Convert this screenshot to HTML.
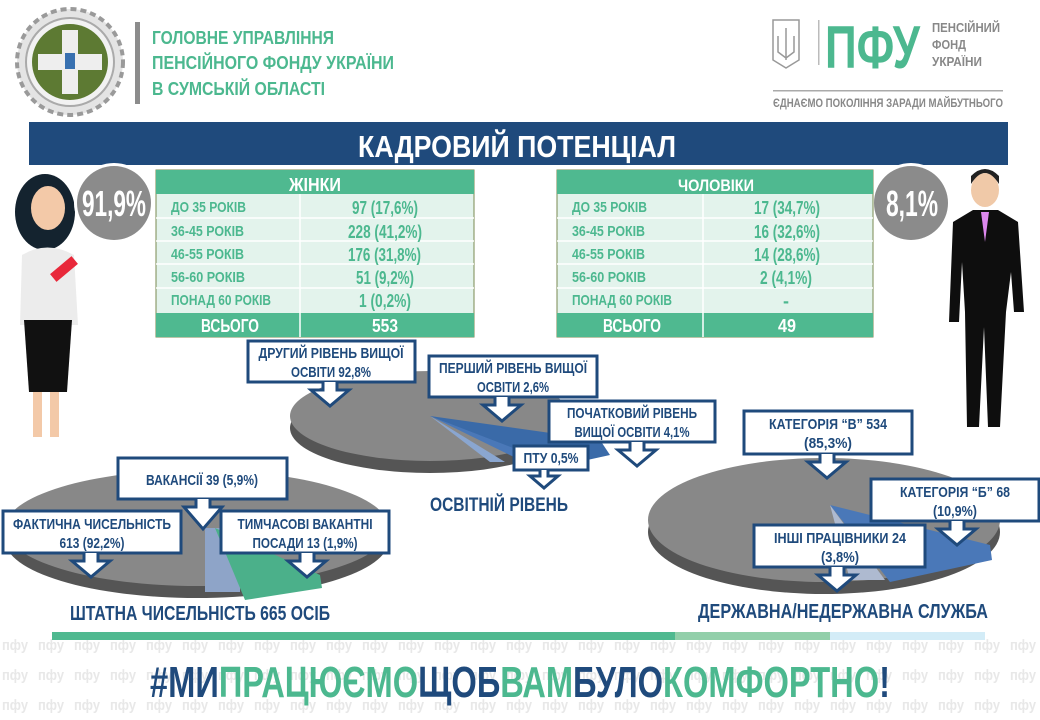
<!DOCTYPE html>
<html><head><meta charset="utf-8"><style>
html,body{margin:0;padding:0;background:#fff}
svg{display:block}
text{font-family:"Liberation Sans Narrow","Liberation Sans",sans-serif;font-weight:bold}
</style></head><body>
<svg width="1040" height="720" viewBox="0 0 1040 720" xmlns="http://www.w3.org/2000/svg">
<defs>
<pattern id="wm" x="0" y="0" width="36" height="30" patternUnits="userSpaceOnUse">
<text x="2" y="20" font-size="15" fill="#e8e8e8" font-weight="normal" textLength="26" lengthAdjust="spacingAndGlyphs">пфу</text>
</pattern>
</defs>
<rect x="0" y="628" width="1040" height="92" fill="url(#wm)"/>

<!-- header logo -->
<circle cx="70" cy="62" r="53" fill="#e4e4e4" stroke="#9a9a9a" stroke-width="4" stroke-dasharray="6 4"/>
<circle cx="70" cy="62" r="44" fill="#f2f2f2" stroke="#aaa" stroke-width="2"/>
<circle cx="70" cy="62" r="38" fill="#5d7a33"/>
<rect x="62" y="30" width="16" height="64" fill="#eee"/>
<rect x="38" y="54" width="64" height="16" fill="#eee"/>
<rect x="65" y="53" width="10" height="16" fill="#3870b0"/>
<rect x="135" y="22" width="5" height="82" fill="#8c8c8c"/>
<text x="152" y="44" font-size="18" fill="#4cb88f" textLength="182" lengthAdjust="spacingAndGlyphs">ГОЛОВНЕ УПРАВЛІННЯ</text>
<text x="152" y="69" font-size="18" fill="#4cb88f" textLength="242" lengthAdjust="spacingAndGlyphs">ПЕНСІЙНОГО ФОНДУ УКРАЇНИ</text>
<text x="152" y="95" font-size="18" fill="#4cb88f" textLength="173" lengthAdjust="spacingAndGlyphs">В СУМСЬКІЙ ОБЛАСТІ</text>

<!-- right logo -->
<path d="M773 20h26v40l-13 8-13-8z" fill="none" stroke="#999" stroke-width="1.5"/>
<path d="M786 28v32M778 36v16l8 6 8-6V36" fill="none" stroke="#999" stroke-width="1.5"/>
<rect x="818" y="20" width="1.5" height="45" fill="#bbb"/>
<text x="825" y="68" font-size="60" fill="#4cb88f" textLength="95" lengthAdjust="spacingAndGlyphs">ПФУ</text>
<text x="932" y="32" font-size="13" fill="#888" textLength="68" lengthAdjust="spacingAndGlyphs">ПЕНСІЙНИЙ</text>
<text x="932" y="49" font-size="13" fill="#888" textLength="34" lengthAdjust="spacingAndGlyphs">ФОНД</text>
<text x="932" y="66" font-size="13" fill="#888" textLength="50" lengthAdjust="spacingAndGlyphs">УКРАЇНИ</text>
<rect x="773" y="90" width="230" height="1.5" fill="#aaa"/>
<text x="773" y="107" font-size="12" fill="#888" font-weight="normal" textLength="230" lengthAdjust="spacingAndGlyphs">ЄДНАЄМО ПОКОЛІННЯ ЗАРАДИ МАЙБУТНЬОГО</text>

<!-- title -->
<rect x="29" y="122" width="979" height="43" fill="#1f4a7c"/>
<text x="358" y="157" font-size="31" fill="#fff" textLength="318" lengthAdjust="spacingAndGlyphs">КАДРОВИЙ  ПОТЕНЦІАЛ</text>

<!-- woman -->
<ellipse cx="45" cy="212" rx="30" ry="38" fill="#14232f"/>
<ellipse cx="48" cy="208" rx="17" ry="22" fill="#f3c9a8"/>
<path d="M22 255 q25 -15 52 0 l4 70 h-58z" fill="#ececec"/>
<path d="M24 320 h48 l-5 72 h-38z" fill="#111"/>
<rect x="33" y="392" width="9" height="45" fill="#f3c9a8"/>
<rect x="50" y="392" width="9" height="45" fill="#f3c9a8"/>
<rect x="50" y="264" width="28" height="10" fill="#e8283a" transform="rotate(-40 64 269)"/>
<circle cx="114" cy="203" r="40" fill="#fff"/>
<circle cx="114" cy="203" r="37" fill="#8b8b8b"/>
<text x="82" y="216" font-size="36" fill="#fff" textLength="64" lengthAdjust="spacingAndGlyphs">91,9%</text>

<!-- man -->
<ellipse cx="985" cy="190" rx="14" ry="17" fill="#f0c9a8"/>
<path d="M971 184 q14 -22 28 0 v-8 q-14 -14 -28 0z" fill="#222"/>
<path d="M953 222 l20 -12 h25 l20 12 l6 90 h-10 l-3 -40 l-5 40 l-6 115 h-12 l-4 -100 l-5 100 h-12 l-2 -115 l-3 -50 l-3 60 h-10z" fill="#0e0e0e"/>
<path d="M981 212 h8 l-4 30z" fill="#dd88ee"/>
<circle cx="911" cy="203" r="40" fill="#fff"/>
<circle cx="911" cy="203" r="37" fill="#8b8b8b"/>
<text x="886" y="216" font-size="36" fill="#fff" textLength="52" lengthAdjust="spacingAndGlyphs">8,1%</text>

<!-- women table -->
<g>
<rect x="156" y="170" width="318" height="167" fill="#e3f3ec" stroke="#7a8a50" stroke-width="1"/>
<rect x="156" y="170" width="318" height="24" fill="#4fb990"/>
<rect x="156" y="313" width="318" height="24" fill="#4fb990"/>
<g stroke="#fff" stroke-width="1.5"><line x1="156" y1="218" x2="474" y2="218"/><line x1="156" y1="241" x2="474" y2="241"/><line x1="156" y1="264" x2="474" y2="264"/><line x1="156" y1="288" x2="474" y2="288"/><line x1="300" y1="194" x2="300" y2="337"/></g>
<text x="289" y="191" font-size="18" fill="#fff" textLength="52" lengthAdjust="spacingAndGlyphs">ЖІНКИ</text>
<g font-size="15" fill="#4cb88f" font-weight="normal">
<text x="171" y="212" textLength="75" lengthAdjust="spacingAndGlyphs">ДО 35 РОКІВ</text>
<text x="171" y="236" textLength="73" lengthAdjust="spacingAndGlyphs">36-45 РОКІВ</text>
<text x="171" y="259" textLength="73" lengthAdjust="spacingAndGlyphs">46-55 РОКІВ</text>
<text x="171" y="282" textLength="74" lengthAdjust="spacingAndGlyphs">56-60 РОКІВ</text>
<text x="171" y="305" textLength="100" lengthAdjust="spacingAndGlyphs">ПОНАД 60 РОКІВ</text></g>
<g font-size="18" fill="#4cb88f" font-weight="normal">
<text x="352" y="214" textLength="66" lengthAdjust="spacingAndGlyphs">97 (17,6%)</text>
<text x="348" y="238" textLength="74" lengthAdjust="spacingAndGlyphs">228 (41,2%)</text>
<text x="348" y="261" textLength="73" lengthAdjust="spacingAndGlyphs">176 (31,8%)</text>
<text x="356" y="284" textLength="58" lengthAdjust="spacingAndGlyphs">51 (9,2%)</text>
<text x="359" y="307" textLength="52" lengthAdjust="spacingAndGlyphs">1 (0,2%)</text></g>
<text x="201" y="332" font-size="18" fill="#fff" textLength="58" lengthAdjust="spacingAndGlyphs">ВСЬОГО</text>
<text x="372" y="332" font-size="18" fill="#fff" textLength="26" lengthAdjust="spacingAndGlyphs">553</text>
</g>

<!-- men table -->
<g>
<rect x="557" y="170" width="316" height="167" fill="#e3f3ec" stroke="#7a8a50" stroke-width="1"/>
<rect x="557" y="170" width="316" height="24" fill="#4fb990"/>
<rect x="557" y="313" width="316" height="24" fill="#4fb990"/>
<g stroke="#fff" stroke-width="1.5"><line x1="557" y1="218" x2="873" y2="218"/><line x1="557" y1="241" x2="873" y2="241"/><line x1="557" y1="264" x2="873" y2="264"/><line x1="557" y1="288" x2="873" y2="288"/><line x1="703" y1="194" x2="703" y2="337"/></g>
<text x="678" y="191" font-size="17" fill="#fff" textLength="76" lengthAdjust="spacingAndGlyphs">ЧОЛОВІКИ</text>
<g font-size="15" fill="#4cb88f" font-weight="normal">
<text x="572" y="212" textLength="75" lengthAdjust="spacingAndGlyphs">ДО 35 РОКІВ</text>
<text x="572" y="236" textLength="73" lengthAdjust="spacingAndGlyphs">36-45 РОКІВ</text>
<text x="572" y="259" textLength="73" lengthAdjust="spacingAndGlyphs">46-55 РОКІВ</text>
<text x="572" y="282" textLength="74" lengthAdjust="spacingAndGlyphs">56-60 РОКІВ</text>
<text x="572" y="305" textLength="100" lengthAdjust="spacingAndGlyphs">ПОНАД 60 РОКІВ</text></g>
<g font-size="18" fill="#4cb88f" font-weight="normal">
<text x="754" y="214" textLength="66" lengthAdjust="spacingAndGlyphs">17 (34,7%)</text>
<text x="754" y="238" textLength="66" lengthAdjust="spacingAndGlyphs">16 (32,6%)</text>
<text x="754" y="261" textLength="66" lengthAdjust="spacingAndGlyphs">14 (28,6%)</text>
<text x="760" y="284" textLength="52" lengthAdjust="spacingAndGlyphs">2 (4,1%)</text>
<text x="783" y="307">-</text></g>
<text x="603" y="332" font-size="18" fill="#fff" textLength="58" lengthAdjust="spacingAndGlyphs">ВСЬОГО</text>
<text x="778" y="332" font-size="18" fill="#fff" textLength="18" lengthAdjust="spacingAndGlyphs">49</text>
</g>

<!-- education pie -->
<ellipse cx="430" cy="428" rx="140" ry="45" fill="#555"/>
<ellipse cx="430" cy="416" rx="140" ry="45" fill="#888"/>
<path d="M430 416 L560 452 L520 460z" fill="#4a78b8"/>
<path d="M430 416 L505 462 L490 462z" fill="#8aa6d0"/>
<path d="M430 416 L600 440 L610 455 L560 466z" fill="#3a6aa8"/>
<text x="430" y="511" font-size="19" fill="#1f4a7c" font-weight="normal" textLength="138" lengthAdjust="spacingAndGlyphs">ОСВІТНІЙ РІВЕНЬ</text>

<!-- staff pie -->
<ellipse cx="197" cy="540" rx="192" ry="58" fill="#555"/>
<ellipse cx="197" cy="528" rx="192" ry="58" fill="#888"/>
<path d="M205 528 L240 528 L240 592 L205 592z" fill="#8ea4c8"/>
<path d="M215 528 L320 575 L322 588 L245 600z" fill="#4bb08a"/>
<text x="70" y="620" font-size="20" fill="#1f4a7c" font-weight="normal" textLength="260" lengthAdjust="spacingAndGlyphs">ШТАТНА ЧИСЕЛЬНІСТЬ 665 ОСІБ</text>

<!-- gov pie -->
<ellipse cx="824" cy="532" rx="176" ry="62" fill="#555"/>
<ellipse cx="824" cy="520" rx="176" ry="62" fill="#888"/>
<path d="M830 505 L990 545 L992 560 L890 582z" fill="#4a78b8"/>
<path d="M830 505 L850 580 L885 580z" fill="#aebad0"/>
<text x="698" y="618" font-size="20" fill="#1f4a7c" font-weight="normal" textLength="290" lengthAdjust="spacingAndGlyphs">ДЕРЖАВНА/НЕДЕРЖАВНА СЛУЖБА</text>

<!-- callouts -->
<g fill="#fff" stroke="#1f4a7c" stroke-width="3">
<rect x="248" y="341" width="167" height="41"/><path d="M323 382v8h-12l19 16 19-16h-12v-8"/>
<rect x="429" y="356" width="168" height="41"/><path d="M495 397v8h-12l19 16 19-16h-12v-8"/>
<rect x="549" y="401" width="166" height="41"/><path d="M630 442v8h-12l19 16 19-16h-12v-8"/>
<rect x="514" y="446" width="74" height="24"/><path d="M540 470v6h-10l14 12 14-12h-10v-6"/>
<rect x="118" y="458" width="169" height="41"/><path d="M196 499v8h-12l19 22 19-22h-12v-8"/>
<rect x="3" y="511" width="178" height="42"/><path d="M84 553v8h-12l19 16 19-16h-12v-8"/>
<rect x="221" y="511" width="168" height="42"/><path d="M300 553v8h-12l19 16 19-16h-12v-8"/>
<rect x="744" y="411" width="168" height="43"/><path d="M820 454v8h-12l19 16 19-16h-12v-8"/>
<rect x="871" y="479" width="168" height="42"/><path d="M950 521v8h-12l19 16 19-16h-12v-8"/>
<rect x="754" y="525" width="171" height="42"/><path d="M830 567v8h-12l19 16 19-16h-12v-8"/>
</g>
<g font-size="15" fill="#1f4a7c" text-anchor="middle">
<text x="331" y="358" textLength="145" lengthAdjust="spacingAndGlyphs">ДРУГИЙ РІВЕНЬ ВИЩОЇ</text><text x="331" y="377" textLength="80" lengthAdjust="spacingAndGlyphs">ОСВІТИ 92,8%</text>
<text x="513" y="373" textLength="148" lengthAdjust="spacingAndGlyphs">ПЕРШИЙ РІВЕНЬ ВИЩОЇ</text><text x="513" y="392" textLength="72" lengthAdjust="spacingAndGlyphs">ОСВІТИ 2,6%</text>
<text x="632" y="418" textLength="130" lengthAdjust="spacingAndGlyphs">ПОЧАТКОВИЙ РІВЕНЬ</text><text x="632" y="437" textLength="115" lengthAdjust="spacingAndGlyphs">ВИЩОЇ ОСВІТИ 4,1%</text>
<text x="551" y="463" textLength="55" lengthAdjust="spacingAndGlyphs">ПТУ 0,5%</text>
<text x="202" y="485" textLength="112" lengthAdjust="spacingAndGlyphs">ВАКАНСІЇ 39 (5,9%)</text>
<text x="92" y="529" textLength="158" lengthAdjust="spacingAndGlyphs">ФАКТИЧНА ЧИСЕЛЬНІСТЬ</text><text x="92" y="548" textLength="65" lengthAdjust="spacingAndGlyphs">613 (92,2%)</text>
<text x="305" y="529" textLength="135" lengthAdjust="spacingAndGlyphs">ТИМЧАСОВІ ВАКАНТНІ</text><text x="305" y="548" textLength="105" lengthAdjust="spacingAndGlyphs">ПОСАДИ 13 (1,9%)</text>
<text x="828" y="429" textLength="118" lengthAdjust="spacingAndGlyphs">КАТЕГОРІЯ “В” 534</text><text x="828" y="448" textLength="48" lengthAdjust="spacingAndGlyphs">(85,3%)</text>
<text x="955" y="497" textLength="110" lengthAdjust="spacingAndGlyphs">КАТЕГОРІЯ “Б” 68</text><text x="955" y="516" textLength="44" lengthAdjust="spacingAndGlyphs">(10,9%)</text>
<text x="840" y="543" textLength="132" lengthAdjust="spacingAndGlyphs">ІНШІ ПРАЦІВНИКИ 24</text><text x="840" y="562" textLength="38" lengthAdjust="spacingAndGlyphs">(3,8%)</text>
</g>

<!-- bottom bar -->
<rect x="52" y="632" width="623" height="8" fill="#4fb990"/>
<rect x="675" y="632" width="155" height="8" fill="#92cfaa"/>
<rect x="830" y="632" width="155" height="8" fill="#d3ecf7"/>
<text x="150" y="697" font-size="44" textLength="740" lengthAdjust="spacingAndGlyphs"><tspan fill="#1f4a7c">#МИ</tspan><tspan fill="#4cb88f">ПРАЦЮЄМО</tspan><tspan fill="#1f4a7c">ЩОБ</tspan><tspan fill="#4cb88f">ВАМ</tspan><tspan fill="#1f4a7c">БУЛО</tspan><tspan fill="#4cb88f">КОМФОРТНО</tspan><tspan fill="#1f4a7c">!</tspan></text>
</svg>
</body></html>
